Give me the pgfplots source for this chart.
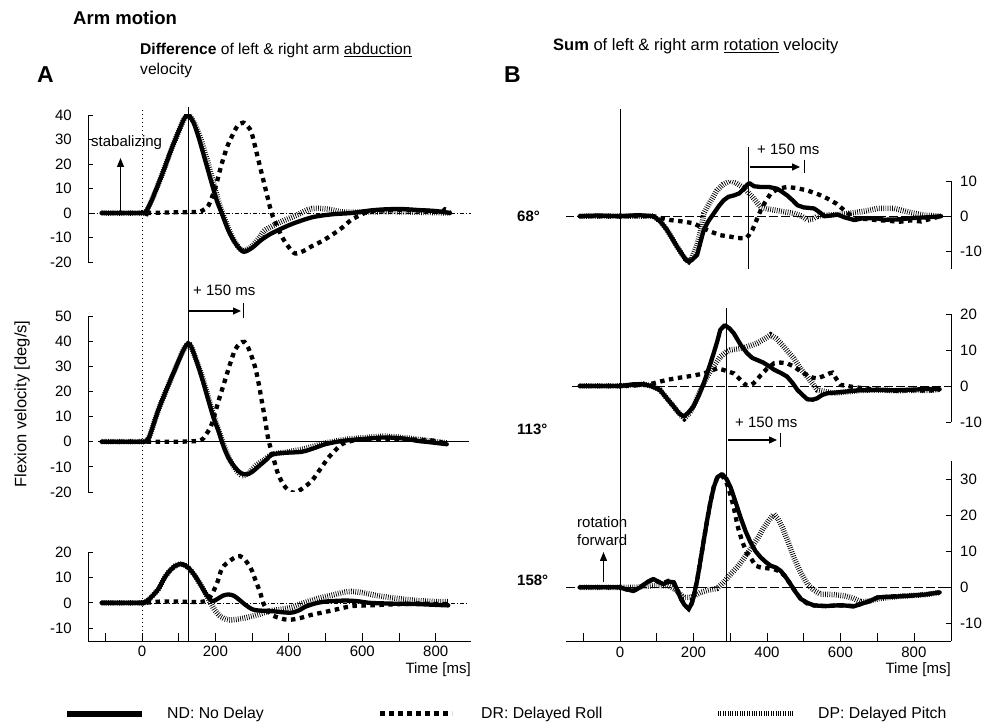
\documentclass[border=0pt]{standalone}
\usepackage{fontspec}
\setmainfont{Liberation Sans}
\usepackage{pgfplots}
\pgfplotsset{compat=1.18}
\usetikzlibrary{arrows.meta}
\newcommand\fs{\fontsize{15}{18}\selectfont}
\pgfplotsset{
  base/.style={scale only axis, tick align=inside, major tick length=5pt,
    tick style={black, line width=0.8pt}, axis line style={black, line width=0.8pt},
    ticklabel style={font=\fs}, /pgf/number format/assume math mode=true,
    xmin=-147, xmax=896},
  bx/.style={xmin=-147, xmax=901},
  nd/.style={black, line width=4.3pt, line join=round, line cap=round},
  dr/.style={black, line width=4.3pt, dash pattern=on 4.5pt off 4.5pt},
  dp/.style={black, line width=5.5pt, dash pattern=on 0.7pt off 1.5pt},
}
\begin{document}
\fs
\begin{tikzpicture}
\useasboundingbox (0,0) rectangle (994pt,725pt);

% ---------------- A1 ----------------
\begin{axis}[base, at={(88pt,463pt)}, width=383pt, height=147pt,
  ymin=-20, ymax=40, axis x line=none, axis y line*=left,
  ytick={-20,-10,0,10,20,30,40}, yticklabels={-20,-10,0,10,20,30,40}, yticklabel shift=11pt]
\draw[line width=0.6pt, dash pattern=on 4pt off 2pt on 1pt off 2pt] (axis cs:-140,0) -- (axis cs:896,0);
\addplot[dp, smooth] table[row sep=\\] {t v\\ -110 0\\ 0 0\\ 10 0.3\\ 26 5\\ 45 12\\ 63 19\\ 80 26\\ 99 33\\ 115 38.5\\ 126 40\\ 140 37.5\\ 156 32\\ 175 23\\ 197 11\\ 210 4\\ 222 -1\\ 240 -8\\ 258 -13\\ 276 -15.5\\ 300 -13.5\\ 320 -10\\ 335 -7\\ 380 -3.5\\ 420 -1\\ 462 1.8\\ 510 1.5\\ 540 0.5\\ 580 0.3\\ 640 0.5\\ 700 0.5\\ 760 0.3\\ 839 0\\};
\addplot[nd, smooth] table[row sep=\\] {t v\\ -110 0\\ -50 0\\ 0 0\\ 10 0.3\\ 26 5\\ 45 12\\ 63 19\\ 80 26\\ 99 33\\ 115 38.5\\ 126 40\\ 140 37\\ 154 31\\ 172 21.6\\ 194 10\\ 205 4.5\\ 217 0\\ 235 -7\\ 255 -12.5\\ 276 -15.8\\ 300 -14.2\\ 325 -11\\ 353 -8.3\\ 400 -5\\ 440 -2.8\\ 471 -1.5\\ 520 -0.5\\ 571 0\\ 620 1\\ 662 1.5\\ 710 1.6\\ 753 1.2\\ 800 0.8\\ 839 0\\};
\addplot[dr, smooth] table[row sep=\\] {t v\\ -110 0\\ 0 0\\ 100 0.3\\ 153 0.5\\ 170 1.5\\ 181 3\\ 199 10\\ 217 20\\ 232 27\\ 244 31\\ 260 35.5\\ 276 36.9\\ 290 35\\ 299 32.5\\ 317 21.6\\ 335 10.7\\ 353 0\\ 367 -5\\ 381 -9.7\\ 400 -14\\ 417 -16.5\\ 440 -15.5\\ 462 -13.6\\ 490 -11.5\\ 517 -9\\ 545 -6\\ 571 -2.7\\ 600 -0.5\\ 617 0.7\\ 650 1\\ 700 1.2\\ 750 1\\ 790 0.8\\ 815 0.2\\ 825 1.5\\ 839 0.5\\};
\end{axis}

% ---------------- A2 ----------------
\begin{axis}[base, at={(88pt,233pt)}, width=383pt, height=176pt,
  ymin=-20, ymax=50, axis x line=none, axis y line*=left,
  ytick={-20,-10,0,10,20,30,40,50}, yticklabels={-20,-10,0,10,20,30,40,50}, yticklabel shift=11pt]
\draw[line width=0.8pt] (axis cs:-120,0) -- (axis cs:890,0);
\addplot[dp, smooth] table[row sep=\\] {t v\\ -110 0\\ 0 0\\ 8 0\\ 20 2\\ 44 12.4\\ 62 19\\ 81 25.7\\ 95 30.5\\ 108 35\\ 118 37.8\\ 126 39\\ 135 37.5\\ 154 30\\ 168 24\\ 181 17.5\\ 195 10.5\\ 208 5\\ 222 -1\\ 240 -7.5\\ 258 -11.5\\ 272 -13.6\\ 290 -12.5\\ 310 -9.5\\ 335 -7\\ 353 -5\\ 400 -4\\ 450 -2.5\\ 500 -0.5\\ 560 1\\ 620 1.8\\ 660 2.2\\ 700 1.8\\ 750 1\\ 800 0\\ 830 -0.5\\};
\addplot[nd, smooth] table[row sep=\\] {t v\\ -110 0\\ 0 0\\ 8 0\\ 20 2\\ 44 12.4\\ 62 19\\ 81 25.7\\ 95 30.5\\ 108 35\\ 118 37.8\\ 126 39\\ 135 37.5\\ 154 29.7\\ 168 23\\ 181 16.4\\ 195 9.5\\ 208 4.4\\ 220 -1\\ 235 -6.3\\ 255 -10.5\\ 270 -12.5\\ 285 -13\\ 300 -12\\ 320 -9.5\\ 340 -7\\ 353 -5.2\\ 380 -4.5\\ 435 -4\\ 470 -2.5\\ 499 -1\\ 540 0.2\\ 571 0.7\\ 620 1.3\\ 662 1.7\\ 710 1.3\\ 752 0.3\\ 790 -0.3\\ 830 -1\\};
\addplot[dr, smooth] table[row sep=\\] {t v\\ -110 0\\ 0 0\\ 100 0\\ 158 0.5\\ 175 3\\ 190 7\\ 208 16\\ 226 24.4\\ 240 31\\ 253 36.4\\ 266 39\\ 279 39.7\\ 292 36.5\\ 308 29.7\\ 318 23\\ 326 16.4\\ 335 9\\ 344 1\\ 358 -6.5\\ 371 -13\\ 390 -18\\ 412 -20.3\\ 435 -18.8\\ 462 -15.6\\ 485 -11\\ 508 -6.3\\ 526 -3.5\\ 544 -1\\ 570 0.3\\ 598 1\\ 650 1\\ 700 1.2\\ 750 0.8\\ 790 0.5\\ 810 0\\ 821 -0.5\\};
\end{axis}

% ---------------- A3 ----------------
\begin{axis}[base, at={(88pt,84pt)}, width=383pt, height=89pt,
  ymin=-15, ymax=20, axis x line*=bottom, axis y line*=left,
  ytick={-10,0,10,20}, yticklabels={-10,0,10,20}, yticklabel shift=11pt,
  xtick={-100,0,100,200,300,400,500,600,700,800}, xticklabels={,0,,200,,400,,600,,800},
  xtick style={/pgfplots/major tick length=8pt}]
\draw[line width=0.6pt, dash pattern=on 4pt off 2pt on 1pt off 2pt] (axis cs:-115,0) -- (axis cs:885,0);
\addplot[dp, smooth] table[row sep=\\] {t v\\ -110 0\\ 0 0\\ 5 0\\ 20 1.5\\ 44 5.3\\ 60 9.5\\ 72 12\\ 90 14.5\\ 108 15.3\\ 125 14\\ 144 10.7\\ 160 7\\ 172 4\\ 185 0.5\\ 199 -3\\ 215 -5.5\\ 230 -6.5\\ 244 -6.7\\ 270 -6.2\\ 299 -5.3\\ 330 -4\\ 353 -3\\ 380 -2.5\\ 408 -1.7\\ 435 -0.3\\ 462 1\\ 495 2.3\\ 526 3.3\\ 550 4.2\\ 571 4.5\\ 600 4\\ 635 3\\ 670 2.2\\ 708 1.5\\ 760 0.8\\ 800 0.5\\ 834 0.5\\};
\addplot[nd, smooth] table[row sep=\\] {t v\\ -110 0\\ 0 0\\ 5 0\\ 20 1.5\\ 44 5.3\\ 60 9.5\\ 72 12\\ 90 14.5\\ 108 15.3\\ 125 14\\ 144 10.7\\ 160 7\\ 172 4\\ 190 0.7\\ 205 1.5\\ 220 2.8\\ 235 3.3\\ 250 2.8\\ 265 1.2\\ 281 -0.7\\ 300 -2.5\\ 317 -3\\ 350 -3.2\\ 390 -3.8\\ 410 -3.8\\ 430 -2.8\\ 444 -1.6\\ 470 -0.3\\ 499 0.5\\ 553 0.9\\ 590 0.6\\ 620 0\\ 680 -0.3\\ 750 -0.5\\ 800 -0.8\\ 834 -1\\};
\addplot[dr, smooth] table[row sep=\\] {t v\\ -110 0\\ 0 0\\ 50 0.5\\ 100 0.5\\ 150 0.3\\ 175 0.8\\ 190 3.3\\ 205 8\\ 217 13.3\\ 230 15.5\\ 244 17\\ 255 18\\ 267 18.4\\ 280 17\\ 290 15\\ 300 12.5\\ 308 9.3\\ 322 4\\ 330 0\\ 340 -2.5\\ 353 -4.7\\ 375 -6\\ 399 -6.7\\ 430 -6\\ 462 -4.7\\ 495 -3.7\\ 526 -2.7\\ 571 -1.3\\ 620 -1\\ 662 -0.7\\ 700 -0.5\\ 753 -0.3\\ 800 -0.5\\ 834 -0.5\\};
\end{axis}

% ---------------- B1 ----------------
\begin{axis}[base, bx, at={(566pt,456pt)}, width=385pt, height=88pt,
  ymin=-15, ymax=10, axis x line=none, axis y line*=right,
  ytick={-10,0,10}, yticklabels={-10,0,10}, yticklabel shift=4pt]
\draw[line width=0.6pt, dash pattern=on 9pt off 3pt] (axis cs:-150,0) -- (axis cs:901,0);
\addplot[dp] table[row sep=\\] {t v\\ -110 0\\ 0 0\\ 91 0\\ 110 -1.5\\ 128 -3.9\\ 140 -6\\ 155 -8.6\\ 170 -11\\ 180 -12.5\\ 187 -12.9\\ 195 -12\\ 210 -8\\ 220 -4\\ 228 0.75\\ 245 4\\ 264 7.3\\ 280 9\\ 300 10.1\\ 315 9.5\\ 337 8\\ 360 5.5\\ 383 2.6\\ 405 2\\ 428 1.6\\ 450 1.2\\ 474 0.8\\ 495 0\\ 510 -1.1\\ 525 -0.8\\ 537 0\\ 560 0.3\\ 600 0.5\\ 638 1\\ 670 1.5\\ 701 2.2\\ 746 2.2\\ 770 1.6\\ 792 1\\ 830 0.3\\ 874 0\\};
\addplot[nd] table[row sep=\\] {t v\\ -110 0\\ -60 0.2\\ 0 0\\ 50 0.3\\ 91 0\\ 110 -1.5\\ 128 -3.9\\ 140 -6\\ 155 -8.6\\ 170 -11\\ 180 -12.5\\ 187 -12.9\\ 195 -12.5\\ 210 -11\\ 220 -7\\ 228 -3.9\\ 240 -1.5\\ 255 0.75\\ 270 3\\ 282 4.5\\ 295 5.5\\ 310 5.9\\ 325 6.5\\ 337 7.8\\ 345 8.8\\ 352 9.4\\ 365 8.5\\ 383 8.3\\ 405 8.3\\ 428 7.8\\ 440 7\\ 455 5.9\\ 470 4.5\\ 483 3.1\\ 500 2.5\\ 528 2.2\\ 545 1\\ 556 0\\ 575 0.2\\ 592 0.5\\ 610 -0.3\\ 638 -1.1\\ 660 -0.6\\ 697 -0.6\\ 720 -1\\ 760 -0.9\\ 800 -0.5\\ 840 -0.3\\ 874 0\\};
\addplot[dr] table[row sep=\\] {t v\\ -110 0\\ 0 0\\ 91 0\\ 110 -0.5\\ 137 -1.1\\ 170 -1.5\\ 200 -2\\ 228 -3.5\\ 250 -4.5\\ 273 -5.4\\ 300 -5.8\\ 320 -6.2\\ 342 -6.3\\ 350 -5.5\\ 360 -4\\ 372 -1\\ 383 1.7\\ 395 4\\ 410 6.4\\ 430 7.8\\ 455 8.3\\ 480 8\\ 510 7.3\\ 540 6.2\\ 565 5\\ 590 3.5\\ 610 1.7\\ 625 0.5\\ 638 -0.7\\ 670 -0.8\\ 697 -1.1\\ 730 -1.3\\ 760 -1.6\\ 790 -1.2\\ 820 -1.5\\ 850 -0.6\\ 874 0\\};
\end{axis}

% ---------------- B2 ----------------
\begin{axis}[base, bx, at={(566pt,303pt)}, width=385pt, height=108pt,
  ymin=-10, ymax=20, axis x line=none, axis y line*=right,
  ytick={-10,0,10,20}, yticklabels={-10,0,10,20}, yticklabel shift=4pt]
\draw[line width=0.6pt, dash pattern=on 9pt off 3pt] (axis cs:-130,0) -- (axis cs:901,0);
\addplot[dp] table[row sep=\\] {t v\\ -110 0\\ 0 0\\ 64 0.5\\ 85 0\\ 109 -1.1\\ 128 -3.5\\ 146 -5.7\\ 160 -7.5\\ 175 -9\\ 190 -7.5\\ 205 -4.5\\ 220 -1\\ 237 2.6\\ 255 5.5\\ 273 8.1\\ 290 9.5\\ 300 10\\ 320 10.3\\ 337 10.6\\ 355 11.2\\ 374 11.9\\ 392 13\\ 410 14.2\\ 425 13.2\\ 437 11.9\\ 455 9.8\\ 473 7.7\\ 490 5\\ 510 2.6\\ 525 0.5\\ 537 -1.1\\ 560 -1.6\\ 583 -2\\ 620 -1.6\\ 660 -1.2\\ 700 -1.1\\ 750 -1.3\\ 800 -1.2\\ 840 -1.2\\ 870 -1\\};
\addplot[nd] table[row sep=\\] {t v\\ -110 0\\ -50 0\\ 0 0\\ 40 0.5\\ 64 0.5\\ 85 0\\ 109 -1.1\\ 128 -3.5\\ 146 -5.7\\ 160 -7.5\\ 173 -8.5\\ 185 -7.5\\ 200 -5.7\\ 215 -2.5\\ 228 0.75\\ 242 5\\ 255 9.1\\ 265 12.5\\ 273 15.6\\ 285 16.9\\ 298 16\\ 310 14.6\\ 328 11.5\\ 346 9.1\\ 360 7.8\\ 374 7.2\\ 390 6.5\\ 401 5.8\\ 420 4.5\\ 440 3.5\\ 455 2.6\\ 470 0.8\\ 483 -1.1\\ 497 -2.5\\ 510 -3.7\\ 525 -3.8\\ 537 -3.4\\ 550 -2.5\\ 565 -2\\ 590 -1.8\\ 610 -1.6\\ 650 -1.2\\ 701 -1.1\\ 750 -1.2\\ 800 -1\\ 840 -0.8\\ 870 -0.9\\};
\addplot[dr] table[row sep=\\] {t v\\ -110 0\\ 0 0\\ 73 0.3\\ 100 1\\ 128 1.7\\ 155 2.2\\ 182 2.6\\ 205 3\\ 228 3.5\\ 250 4.3\\ 264 4.9\\ 280 4.5\\ 295 4\\ 310 3.5\\ 325 2\\ 342 0.3\\ 355 0.2\\ 364 0.8\\ 375 2\\ 383 3\\ 400 4.8\\ 419 6.3\\ 437 6.5\\ 455 6.3\\ 475 5.3\\ 492 4\\ 510 3\\ 525 2.3\\ 537 2.1\\ 555 2.8\\ 570 3.5\\ 578 3.7\\ 590 1.8\\ 601 0.3\\ 630 -0.2\\ 660 -0.6\\ 700 -1\\ 750 -1.3\\ 800 -1.2\\ 840 -1.3\\ 870 -1\\};
\end{axis}

% ---------------- B3 ----------------
\begin{axis}[base, bx, at={(566pt,83.5pt)}, width=385pt, height=180.5pt,
  ymin=-15, ymax=35, axis x line*=bottom, axis y line*=right,
  ytick={-10,0,10,20,30}, yticklabels={-10,0,10,20,30}, yticklabel shift=4pt,
  xtick={-100,0,100,200,300,400,500,600,700,800}, xticklabels={,0,,200,,400,,600,,800},
  xtick style={/pgfplots/major tick length=8pt}]
\draw[line width=0.6pt, dash pattern=on 9pt off 3pt] (axis cs:-147,0) -- (axis cs:901,0);
\addplot[dp] table[row sep=\\] {t v\\ -110 0\\ 0 0\\ 40 0\\ 91 0.5\\ 130 0.5\\ 150 -0.5\\ 173 -2.8\\ 191 -2.8\\ 205 -2.2\\ 219 -1.4\\ 240 -0.8\\ 264 -0.3\\ 282 1.4\\ 300 3.5\\ 319 5.6\\ 337 8\\ 355 10.6\\ 374 13.5\\ 392 16.6\\ 405 18.5\\ 419 20.3\\ 430 19\\ 442 16.6\\ 458 12.5\\ 473 8.3\\ 490 4.5\\ 510 0.9\\ 528 -0.8\\ 546 -1.9\\ 580 -2\\ 610 -2.3\\ 635 -3\\ 656 -4\\ 680 -3.8\\ 701 -3.2\\ 730 -2.8\\ 760 -2.5\\ 792 -2.3\\ 830 -2\\ 870 -1.5\\};
\addplot[nd] table[row sep=\\] {t v\\ -110 0\\ -50 0\\ 0 0\\ 15 -0.5\\ 36 -1\\ 55 0\\ 75 1.5\\ 91 2.3\\ 105 1.5\\ 118 0.9\\ 132 1.6\\ 146 1.4\\ 155 -0.5\\ 164 -2.8\\ 175 -4.8\\ 187 -6\\ 195 -4.5\\ 200 -2.8\\ 210 2\\ 219 7.4\\ 228 13\\ 237 18.5\\ 246 23.5\\ 255 27.7\\ 265 30.5\\ 278 31.4\\ 290 30\\ 301 27.7\\ 315 23.5\\ 328 19.4\\ 342 15.5\\ 355 12.5\\ 369 10\\ 383 8.3\\ 397 7\\ 410 6\\ 424 5.5\\ 437 4.6\\ 450 3\\ 464 0.9\\ 478 -1.3\\ 492 -3.2\\ 510 -4.3\\ 528 -5\\ 560 -5.2\\ 590 -5\\ 610 -5\\ 635 -5.3\\ 656 -4.6\\ 680 -3.8\\ 701 -2.8\\ 730 -2.6\\ 760 -2.5\\ 792 -2.3\\ 830 -2\\ 870 -1.4\\};
\addplot[dr] table[row sep=\\] {t v\\ -110 0\\ 0 0\\ 15 -0.5\\ 36 -1\\ 55 0\\ 75 1.5\\ 91 2.3\\ 105 1.5\\ 118 1.2\\ 132 1.8\\ 146 1.4\\ 155 -0.5\\ 164 -2.8\\ 175 -4.8\\ 187 -6\\ 195 -4.5\\ 200 -2.8\\ 210 2\\ 219 7.4\\ 228 13\\ 237 18.5\\ 246 23.5\\ 255 27.7\\ 265 30.5\\ 278 31\\ 290 29\\ 301 25.5\\ 310 22\\ 320 17\\ 332 12.9\\ 345 9.5\\ 355 8.3\\ 369 6\\ 383 5.5\\ 400 5.3\\ 420 5\\ 437 4.3\\ 450 3\\ 464 0.9\\ 478 -1.3\\ 492 -3.2\\ 510 -4.5\\ 528 -5\\ 560 -5.2\\ 590 -5\\ 610 -5\\ 635 -5.2\\ 656 -4.6\\ 680 -3.8\\ 701 -2.8\\ 730 -2.6\\ 760 -2.4\\ 792 -2.3\\ 830 -2\\ 870 -1.4\\};
\end{axis}

% ---------------- annotations (pixel frame, y downward) ----------------
\begin{scope}[x=1pt, y=-1pt, shift={(0pt,725pt)}, every node/.style={inner sep=0pt}]
% vertical reference lines
\draw[line width=0.9pt, dash pattern=on 1.5pt off 2.5pt] (142,110) -- (142,640);
\draw[line width=0.8pt] (188,107) -- (188,641);
\draw[line width=0.8pt] (620,109) -- (620,641);
\draw[line width=0.8pt] (748.5,147) -- (748.5,269);
\draw[line width=0.8pt] (726.5,308) -- (726.5,641);
% +150 ms arrows
\node[anchor=west] at (193,290) {+ 150 ms};
\draw[line width=1.3pt, -{Triangle[length=8pt,width=7pt]}] (189,311) -- (241,311);
\draw[line width=0.9pt] (243,303) -- (243,318);
\node[anchor=west] at (757,149) {+ 150 ms};
\draw[line width=1.3pt, -{Triangle[length=8pt,width=7pt]}] (750,167) -- (800,167);
\draw[line width=0.9pt] (804,160) -- (804,173);
\node[anchor=west] at (735,422) {+ 150 ms};
\draw[line width=1.3pt, -{Triangle[length=8pt,width=7pt]}] (728,440) -- (777,440);
\draw[line width=0.9pt] (780,433) -- (780,447);
% stabilizing / rotation forward
\node[anchor=west] at (91,143) {stabalizing};
\draw[line width=1pt, -{Triangle[length=9pt,width=7pt]}] (120.5,213) -- (120.5,158);
\node[anchor=west, align=left] at (577,531) {rotation\\forward};
\draw[line width=1.2pt, -{Triangle[length=9pt,width=7pt]}] (603.5,582) -- (603.5,552);
% angle labels
\node[anchor=west, font=\fs\bfseries] at (517,216) {68°};
\node[anchor=west, font=\fs\bfseries] at (517,429) {113°};
\node[anchor=west, font=\fs\bfseries] at (517,580) {158°};
% axis labels
\node[rotate=90, font=\fontsize{16.5}{19}\selectfont] at (22,404) {Flexion velocity [deg/s]};
\node[anchor=east] at (471,670) {Time [ms]};
\node[anchor=east] at (951,670) {Time [ms]};
% titles
\node[anchor=west, font=\fontsize{18.5}{22}\selectfont\bfseries] at (73,18) {Arm motion};
\node[anchor=west, font=\fontsize{23}{26}\selectfont\bfseries] at (37,75) {A};
\node[anchor=west, font=\fontsize{23}{26}\selectfont\bfseries] at (504,75) {B};
\node[anchor=base west, font=\fontsize{15.6}{19}\selectfont] at (140,55) {\textbf{Difference} of left \& right arm \underline{abduction}};
\node[anchor=base west, font=\fontsize{15.6}{19}\selectfont] at (140,75) {velocity};
\node[anchor=base west, font=\fontsize{16.5}{19}\selectfont] at (553,51) {\textbf{Sum} of left \& right arm \underline{rotation} velocity};
% legend
\draw[line width=6pt] (67,714) -- (142,714);
\node[anchor=west, font=\fontsize{15.8}{19}\selectfont] at (167,714) {ND: No Delay};
\draw[line width=5pt, dash pattern=on 5pt off 4pt] (380,714) -- (452,714);
\node[anchor=west, font=\fontsize{15.8}{19}\selectfont] at (481,714) {DR: Delayed Roll};
\draw[line width=5pt, dash pattern=on 0.8pt off 1.6pt] (718,714) -- (793,714);
\node[anchor=west, font=\fontsize{15.8}{19}\selectfont] at (818,714) {DP: Delayed Pitch};
\end{scope}
\end{tikzpicture}
\end{document}
